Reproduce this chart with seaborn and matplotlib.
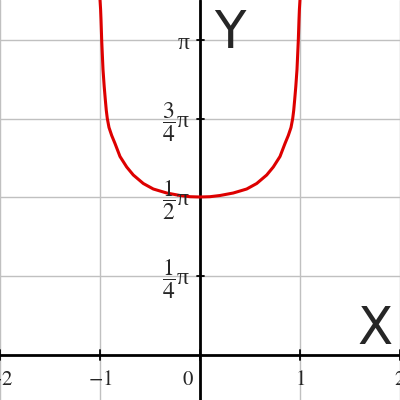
import numpy as np
import matplotlib
matplotlib.use("Agg")
import matplotlib.pyplot as plt
import seaborn as sns

# points (left branch, then right branch)
curve_x = [-1.000, -0.994, -0.990, -0.983, -0.970, -0.958, -0.947, -0.937,
           -0.927, -0.910, -0.883, -0.850, -0.800, -0.733, -0.667, -0.567,
           -0.467, -0.333, -0.200, -0.100, 0.000,
           0.100, 0.200, 0.333, 0.467, 0.567, 0.667, 0.733, 0.800, 0.850,
           0.883, 0.910, 0.927, 0.937, 0.947, 0.958, 0.970, 0.983, 0.990,
           0.994, 1.000]
curve_y = [3.55, 3.45, 3.35, 3.14, 2.85, 2.68, 2.55, 2.44,
           2.36, 2.27, 2.19, 2.11, 1.98, 1.875, 1.795, 1.71,
           1.655, 1.615, 1.59, 1.578, 1.575,
           1.578, 1.59, 1.615, 1.655, 1.71, 1.795, 1.875, 1.98, 2.11,
           2.19, 2.27, 2.36, 2.44, 2.55, 2.68, 2.85, 3.14, 3.35,
           3.45, 3.55]

x_ticks = [-2, -1, 0, 1, 2]
x_labels = ["$-2$", "$-1$", "$0$", "$1$", "$2$"]
y_ticks = [np.pi / 4, np.pi / 2, 3 * np.pi / 4, np.pi]
y_labels = [r"$\dfrac{1}{4}$π", r"$\dfrac{1}{2}$π", r"$\dfrac{3}{4}$π", "π"]

sns.set_style("white")
plt.rcParams["mathtext.fontset"] = "stix"
plt.rcParams["font.family"] = ["Liberation Serif", "DejaVu Serif"]

fig = plt.figure(figsize=(4, 4), dpi=100)
ax = fig.add_axes([0, 0, 1, 1])

# grid
for gx in x_ticks:
    ax.axvline(gx, color="#c0c0c0", lw=1, zorder=0)
for gy in y_ticks:
    ax.axhline(gy, color="#c0c0c0", lw=1, zorder=0)

# axes through the origin
ax.axhline(0, color="black", lw=2, zorder=2)
ax.axvline(0, color="black", lw=2, zorder=2)

sns.lineplot(x=curve_x, y=curve_y, sort=False, color="#dd0000", lw=2.2,
             ax=ax, zorder=3, solid_joinstyle="round")

ax.set_xlim(-2, 2)
ax.set_ylim(-0.455, 3.545)
ax.set_xticks([])
ax.set_yticks([])
for s in ax.spines.values():
    s.set_visible(False)

# tick marks crossing the axes
for tx in x_ticks:
    ax.plot([tx, tx], [-0.05, 0.05], color="black", lw=1.3, zorder=2)
for ty in y_ticks:
    ax.plot([-0.035, 0.035], [ty, ty], color="black", lw=1.3, zorder=2)

# tick labels
for tx, lab in zip(x_ticks, x_labels):
    xpos = tx if tx != 0 else -0.12
    ax.text(xpos, -0.26, lab, ha="center", va="center", fontsize=15, zorder=4)
for ty, lab in zip(y_ticks, y_labels):
    ax.text(-0.1, ty - 0.03, lab, ha="right", va="center", fontsize=17, zorder=4)

ax.text(0.3, 3.2, "Y", ha="center", va="center", fontsize=37,
        family="DejaVu Sans", zorder=4)
ax.text(1.75, 0.245, "X", ha="center", va="center", fontsize=37,
        family="DejaVu Sans", zorder=4)

fig.savefig("out.png", dpi=100)
